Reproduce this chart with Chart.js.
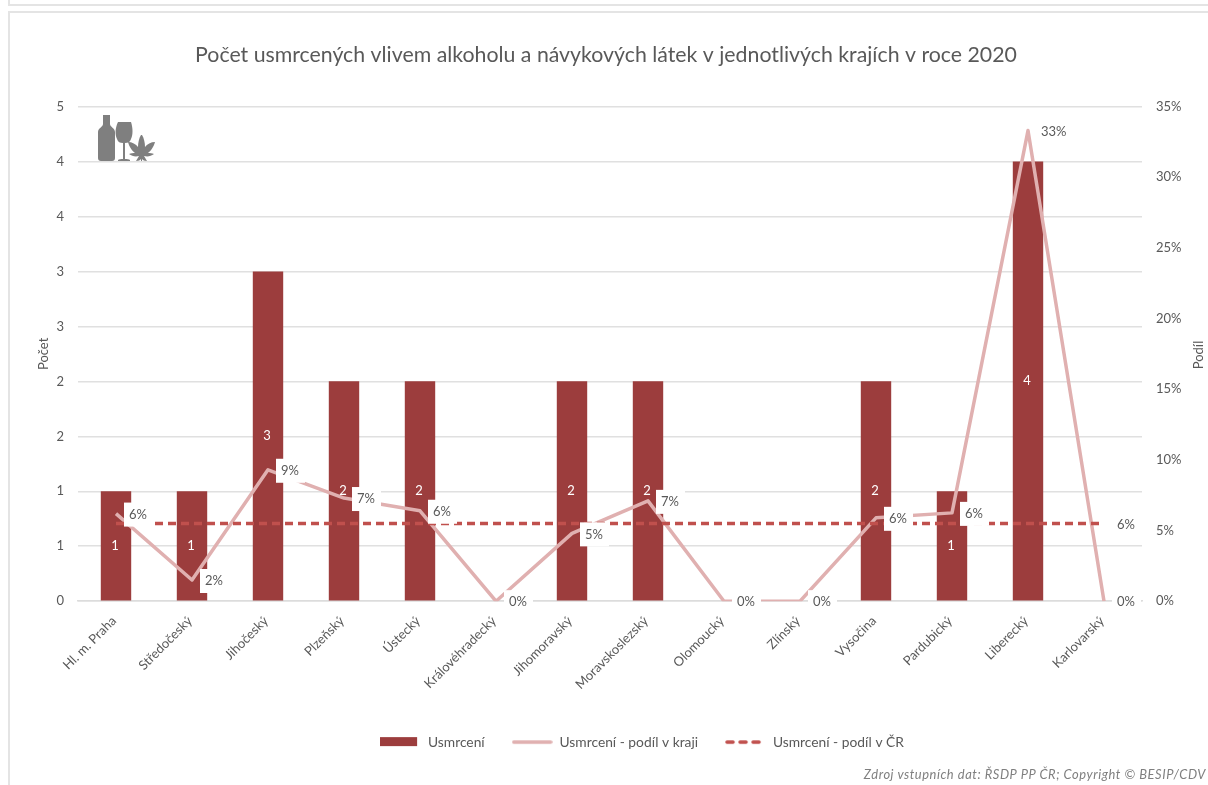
<!DOCTYPE html>
<html>
<head>
<meta charset="utf-8">
<script src="https://cdn.jsdelivr.net/npm/chart.js@4/dist/chart.umd.min.js"></script>
<style>
    html, body { margin: 0; padding: 0; background: #fff; overflow: hidden; }
    #wrap { position: relative; width: 1208px; height: 785px; font-family: Lato, sans-serif; }
    #topFrame { position: absolute; left: 8px; top: -10px; width: 1300px; height: 12px; border: 2px solid #e4e4e4; }
    #frame { position: absolute; left: 8px; top: 11px; width: 1300px; height: 900px; border: 2px solid #e4e4e4; }
    #icon { position: absolute; left: 96px; top: 113px; }
    #source { position: absolute; right: 2px; top: 766px; font-size: 12.9px; font-style: italic; color: #7f7f7f; letter-spacing: 0.55px; white-space: nowrap; }
</style>
</head>
<body>
<div id="wrap">
    <div id="topFrame"></div>
    <div id="frame"></div>
    <canvas id="chart" width="1208" height="785" style="position:absolute;left:0;top:0"></canvas>
    <svg id="icon" width="60" height="50" viewBox="0 0 60 50">
        <path fill="#7f7f7f" d="M7 2h7v9c0 3 5 4 5 8v26c0 2-1 3-3 3H5c-2 0-3-1-3-3V19c0-4 5-5 5-8z"/>
        <path fill="#7f7f7f" d="M22 9h13c2 6 2 13 0 17-1 3-3 4-6 4v16c2 0 4 0 5 1v1H22v-1c1-1 3-1 5-1V30c-3 0-5-1-6-4-2-4-2-11 1-17z"/>
        <path fill="#7f7f7f" d="M46 22c2 3 3 8 3 12 2-3 6-5 10-5-1 4-4 9-7 11 2 0 4 0 6 1-3 2-6 3-10 2l3 5c-3 0-4-1-5-2v2h-1v-2c-1 1-2 2-5 2l3-5c-4 1-7 0-10-2 2-1 4-1 6-1-3-2-6-7-7-11 4 0 8 2 10 5 0-4 1-9 3-12z"/>
    </svg>
    <div id="source">Zdroj vstupních dat: ŘSDP PP ČR; Copyright © BESIP/CDV</div>
</div>
<script>
const categories = ['Hl. m. Praha', 'Středočeský', 'Jihočeský', 'Plzeňský', 'Ústecký', 'Královéhradecký', 'Jihomoravský', 'Moravskoslezský', 'Olomoucký', 'Zlínský', 'Vysočina', 'Pardubický', 'Liberecký', 'Karlovarský'];
const usmrceni = [1, 1, 3, 2, 2, 0, 2, 2, 0, 0, 2, 1, 4, 0];
const podilKraj = [6.2, 1.5, 9.3, 7.3, 6.4, 0, 4.8, 7.1, 0, 0, 5.9, 6.25, 33.3, 0];
const podilCR = [5.5, 5.5, 5.5, 5.5, 5.5, 5.5, 5.5, 5.5, 5.5, 5.5, 5.5, 5.5, 5.5, 5.5];
const legendLabels = ['Usmrcení', 'Usmrcení - podíl v kraji', 'Usmrcení - podíl v ČR'];

const TEXT = '#595959';
const BAR = '#9c3d3d';
const LINE = '#e0b0b0';
const DASH = '#c0504d';
const FONT = 'Lato, sans-serif';

// small canvases used as legend swatches
function swatch(draw) {
    const c = document.createElement('canvas');
    c.width = 41;
    c.height = 12;
    draw(c.getContext('2d'));
    return c;
}

const swatches = [
    swatch(ctx => { ctx.fillStyle = BAR; ctx.fillRect(0, 1, 37, 9); }),
    swatch(ctx => { ctx.strokeStyle = LINE; ctx.lineWidth = 3.5; ctx.lineCap = 'round'; ctx.beginPath(); ctx.moveTo(2, 6); ctx.lineTo(39, 6); ctx.stroke(); }),
    swatch(ctx => { ctx.strokeStyle = DASH; ctx.lineWidth = 3.5; ctx.lineCap = 'round'; ctx.setLineDash([6, 7]); ctx.beginPath(); ctx.moveTo(2, 6); ctx.lineTo(38, 6); ctx.stroke(); })
];

// legend and title are not centred on the canvas in the original
const blockShift = {
    id: 'blockShift',
    afterLayout(chart) {
        chart.legend.left += 38;
        chart.legend.right += 38;
        chart.titleBlock.left += 2;
        chart.titleBlock.right += 2;
    }
};

// value labels: white number in the bars, boxed percent next to the line points
const valueLabels = {
    id: 'valueLabels',
    afterDatasetsDraw(chart) {
        const ctx = chart.ctx;
        ctx.save();
        ctx.font = '13px ' + FONT;
        ctx.textBaseline = 'middle';

        chart.getDatasetMeta(0).data.forEach((bar, i) => {
            if (!usmrceni[i]) return;
            ctx.fillStyle = '#fff';
            ctx.textAlign = 'center';
            ctx.fillText(usmrceni[i], bar.x - 1, (bar.y + bar.base) / 2);
        });

        const drawBoxed = (x, y, value) => {
            ctx.fillStyle = '#fff';
            ctx.fillRect(x + 8, y - 11, 29, 24);
            ctx.fillStyle = TEXT;
            ctx.textAlign = 'left';
            ctx.fillText(Math.round(value) + '%', x + 13, y + 1);
        };
        chart.getDatasetMeta(1).data.forEach((pt, i) => drawBoxed(pt.x, pt.y, podilKraj[i]));

        const last = chart.getDatasetMeta(2).data[categories.length - 1];
        drawBoxed(last.x, last.y, podilCR[categories.length - 1]);
        ctx.restore();
    },
    // right axis title reads bottom to top, which the library does not offer
    afterDraw(chart) {
        const ctx = chart.ctx;
        ctx.save();
        ctx.translate(1199, 355);
        ctx.rotate(-Math.PI / 2);
        ctx.font = '13px ' + FONT;
        ctx.fillStyle = TEXT;
        ctx.textAlign = 'center';
        ctx.textBaseline = 'middle';
        ctx.fillText('Podíl', 0, 0);
        ctx.restore();
    }
};

new Chart(document.getElementById('chart').getContext('2d'), {
    type: 'bar',
    data: {
        labels: categories,
        datasets: [
            { label: legendLabels[0], data: usmrceni, backgroundColor: BAR, barPercentage: 0.4, categoryPercentage: 1, yAxisID: 'y', order: 3 },
            { label: legendLabels[1], type: 'line', data: podilKraj, borderColor: LINE, borderWidth: 3.5, borderJoinStyle: 'round', pointRadius: 0, tension: 0, yAxisID: 'y2', order: 2 },
            { label: legendLabels[2], type: 'line', data: podilCR, borderColor: DASH, borderWidth: 3.5, borderDash: [8, 5], pointRadius: 0, tension: 0, yAxisID: 'y2', order: 1 }
        ]
    },
    options: {
        responsive: false,
        animation: false,
        layout: { padding: { bottom: 26 } },
        plugins: {
            title: {
                display: true,
                text: 'Počet usmrcených vlivem alkoholu a návykových látek v jednotlivých krajích v roce 2020',
                color: TEXT,
                font: { family: FONT, size: 21.3, weight: 'normal' },
                padding: { top: 42, bottom: 39 }
            },
            legend: {
                position: 'bottom',
                labels: {
                    color: TEXT,
                    font: { family: FONT, size: 13.8 },
                    usePointStyle: true,
                    pointStyleWidth: 41,
                    padding: 27,
                    generateLabels() {
                        return legendLabels.map((text, i) => ({
                            text, pointStyle: swatches[i], fontColor: TEXT, datasetIndex: i, lineWidth: 0
                        }));
                    }
                }
            },
            tooltip: { enabled: false }
        },
        scales: {
            x: {
                grid: { display: false },
                border: { color: '#dcdcdc', width: 1.5 },
                ticks: { color: TEXT, font: { family: FONT, size: 13 }, minRotation: 45, maxRotation: 45, padding: 4, labelOffset: -2 },
                afterFit(scale) { scale.height = 107; }
            },
            y: {
                position: 'left',
                min: 0,
                max: 4.5,
                grid: { color: '#e0e0e0', lineWidth: 1.5, drawTicks: false },
                border: { display: false },
                ticks: { stepSize: 0.5, color: TEXT, font: { family: FONT, size: 13 }, padding: 14, callback: value => Math.round(value) },
                title: { display: true, text: 'Počet', color: TEXT, font: { family: FONT, size: 13 }, padding: { top: 36, bottom: 0 } },
                afterFit(scale) { scale.width = 78; }
            },
            y2: {
                position: 'right',
                min: 0,
                max: 35,
                grid: { display: false },
                border: { display: false },
                ticks: { stepSize: 5, color: TEXT, font: { family: FONT, size: 13 }, padding: 6, callback: value => value + '%' },
                afterFit(scale) { scale.width = 66; }
            }
        }
    },
    plugins: [blockShift, valueLabels]
});
</script>
</body>
</html>
